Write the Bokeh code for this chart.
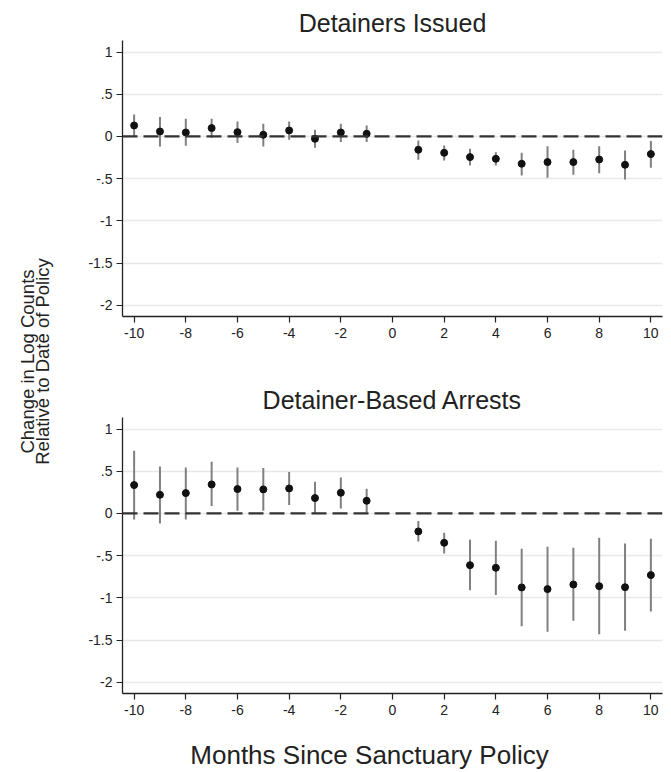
import math
from bokeh.plotting import figure
from bokeh.layouts import row, column
from bokeh.models import Range1d, Span, FixedTicker, ColumnDataSource
from bokeh.core.properties import value
from bokeh.embed import file_html
from bokeh.resources import INLINE

FONT = "Liberation Sans"

months = [-10, -9, -8, -7, -6, -5, -4, -3, -2, -1, 1, 2, 3, 4, 5, 6, 7, 8, 9, 10]

det_est = [0.130, 0.059, 0.047, 0.099, 0.051, 0.020, 0.071, -0.028, 0.047, 0.032,
           -0.158, -0.194, -0.245, -0.265, -0.324, -0.304, -0.304, -0.273, -0.336, -0.209]
det_hi = [0.261, 0.229, 0.209, 0.209, 0.178, 0.150, 0.178, 0.079, 0.150, 0.130,
          -0.047, -0.107, -0.146, -0.186, -0.194, -0.115, -0.158, -0.115, -0.166, -0.055]
det_lo = [0.000, -0.119, -0.111, -0.016, -0.079, -0.119, -0.040, -0.134, -0.067, -0.067,
          -0.277, -0.285, -0.344, -0.344, -0.462, -0.490, -0.455, -0.435, -0.510, -0.372]

arr_est = [0.336, 0.221, 0.241, 0.344, 0.289, 0.285, 0.296, 0.182, 0.245, 0.150,
           -0.213, -0.348, -0.613, -0.644, -0.877, -0.897, -0.842, -0.862, -0.874, -0.731]
arr_hi = [0.743, 0.557, 0.545, 0.613, 0.545, 0.538, 0.490, 0.375, 0.427, 0.292,
          -0.091, -0.229, -0.312, -0.324, -0.419, -0.395, -0.407, -0.289, -0.356, -0.300]
arr_lo = [-0.071, -0.119, -0.071, 0.087, 0.032, 0.032, 0.099, 0.000, 0.059, 0.012,
          -0.332, -0.474, -0.909, -0.968, -1.336, -1.403, -1.273, -1.431, -1.391, -1.162]

x_ticks = [-10, -8, -6, -4, -2, 0, 2, 4, 6, 8, 10]
x_tick_labels = ["-10", "-8", "-6", "-4", "-2", "0", "2", "4", "6", "8", "10"]
y_ticks = [1, 0.5, 0, -0.5, -1, -1.5, -2]
y_tick_labels = ["1", ".5", "0", "-.5", "-1", "-1.5", "-2"]

titles = ["Detainers Issued", "Detainer-Based Arrests"]
y_label_lines = ["Change in Log Counts", "Relative to Date of Policy"]
x_label = "Months Since Sanctuary Policy"

INK = "#222222"


def panel(title, est, lo, hi, height, bottom):
    p = figure(width=587, height=height, output_backend="svg", toolbar_location=None,
               x_range=Range1d(-10.45, 10.45), y_range=Range1d(-2.134, 1.137),
               min_border_left=44, min_border_right=3,
               min_border_top=40, min_border_bottom=bottom)
    p.title.text = title
    p.title.align = "center"
    p.title.text_font = FONT
    p.title.text_font_size = "25px"
    p.title.text_font_style = "normal"
    p.title.text_color = INK
    p.title.standoff = 8
    p.outline_line_color = None
    p.background_fill_color = "white"
    p.xgrid.grid_line_color = None
    p.ygrid.grid_line_color = "#e8e8e8"
    p.ygrid.grid_line_width = 1.3
    p.ygrid.ticker = FixedTicker(ticks=y_ticks)
    p.xaxis.ticker = FixedTicker(ticks=x_ticks)
    p.yaxis.ticker = FixedTicker(ticks=y_ticks)
    p.xaxis.major_label_overrides = {t: l for t, l in zip(x_ticks, x_tick_labels)}
    p.yaxis.major_label_overrides = {t: l for t, l in zip(y_ticks, y_tick_labels)}
    for ax in (p.xaxis[0], p.yaxis[0]):
        ax.axis_line_color = INK
        ax.axis_line_width = 1.3
        ax.major_tick_line_color = INK
        ax.major_tick_line_width = 1.2
        ax.major_tick_out = 6
        ax.major_tick_in = 0
        ax.minor_tick_line_color = None
        ax.major_label_text_font = FONT
        ax.major_label_text_font_size = "14px"
        ax.major_label_text_color = INK
    p.yaxis.major_label_orientation = "horizontal"
    p.yaxis.major_label_standoff = 4
    p.xaxis.major_label_standoff = 5
    src = ColumnDataSource(dict(x=months, est=est, lo=lo, hi=hi))
    p.add_layout(Span(location=0, dimension="width", line_color="#333333",
                      line_width=2.2, line_dash="15 6"))
    p.segment(x0="x", y0="lo", x1="x", y1="hi", source=src,
              line_color="#808080", line_width=2)
    p.scatter(x="x", y="est", source=src, size=7, fill_color="#111111",
              line_color="#111111")
    return p


p1 = panel(titles[0], det_est, det_lo, det_hi, 377, 61)
p2 = panel(titles[1], arr_est, arr_lo, arr_hi, 346, 30)

lab = figure(width=78, height=723, output_backend="svg", toolbar_location=None,
             x_range=Range1d(0, 78), y_range=Range1d(0, 723),
             min_border=0, outline_line_color=None)
lab.axis.visible = False
lab.grid.visible = False
lab.text(x=[27, 42], y=[362, 362], text=y_label_lines, angle=math.pi / 2,
         text_align="center", text_baseline="middle",
         text_font=value(FONT), text_font_size="18.5px", text_color=INK)

xlab = figure(width=665, height=48, output_backend="svg", toolbar_location=None,
              x_range=Range1d(0, 665), y_range=Range1d(0, 48),
              min_border=0, outline_line_color=None)
xlab.axis.visible = False
xlab.grid.visible = False
xlab.text(x=[369], y=[17], text=[x_label], text_align="center",
          text_baseline="middle", text_font=value(FONT),
          text_font_size="26px", text_color=INK)

layout = column(row(lab, column(p1, p2)), xlab)
open("out.html", "w").write(file_html(layout, INLINE))
